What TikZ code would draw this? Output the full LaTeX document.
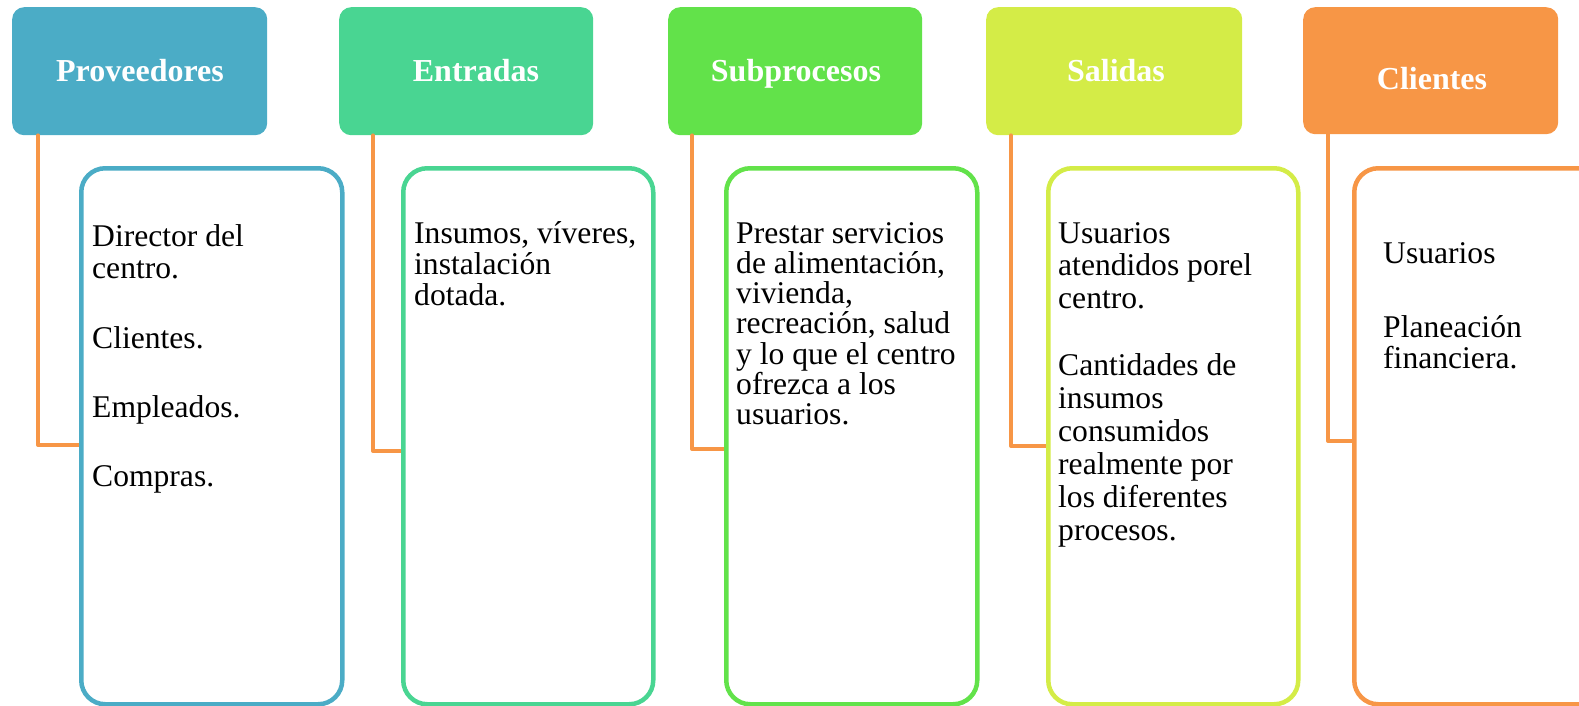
\documentclass[tikz,border=0pt]{standalone}
\usepackage{fontspec}
\setmainfont{Liberation Serif}
\definecolor{cA}{HTML}{4BACC6}
\definecolor{cB}{HTML}{49D592}
\definecolor{cC}{HTML}{62E24A}
\definecolor{cD}{HTML}{D4EC47}
\definecolor{cE}{HTML}{F79646}
\definecolor{conn}{HTML}{F79646}
\begin{document}
\begin{tikzpicture}[x=1pt,y=-1pt,
  head/.style={fill=#1,draw=none,rounded corners=12pt,minimum width=255pt,minimum height=128pt,anchor=north west,inner sep=0pt},
  headtext/.style={text=white,font=\fontsize{32}{36}\selectfont\bfseries,anchor=base,inner sep=0pt},
  cbox/.style={draw=#1,fill=white,line width=4.5pt,rounded corners=24pt,minimum width=251pt,minimum height=536pt,anchor=north west,inner sep=0pt},
  btext/.style={anchor=base west,inner sep=0pt,font=\fontsize{31.6}{32}\selectfont,align=left},
  connline/.style={draw=conn,line width=4pt,line cap=round,line join=round}]
\useasboundingbox (0,0) rectangle (1579,706);
% headers
\node[head=cA] (h1) at (12,7) {};
\node[head=cB,minimum width=254pt] (h2) at (339,7) {};
\node[head=cC,minimum width=254pt] (h3) at (668,7) {};
\node[head=cD,minimum width=256pt] (h4) at (986,7) {};
\node[head=cE,minimum height=127pt] (h5) at (1303,7) {};
\node[headtext] (l1) at (140,82) {Proveedores};
\node[headtext] (l2) at (476,82) {Entradas};
\node[headtext] (l3) at (796,82) {Subprocesos};
\node[headtext] (l4) at (1116,82) {Salidas};
\node[headtext] (l5) at (1432,90) {Clientes};
% connector corners
\coordinate (k1) at (38,445);
\coordinate (k2) at (373,451);
\coordinate (k3) at (692,449);
\coordinate (k4) at (1011,446);
\coordinate (k5) at (1328,441);
% content boxes (positions only)
\path (79,166) coordinate (p1) (401,166) coordinate (p2) (724,166) coordinate (p3) (1046,166) coordinate (p4) (1352,166) coordinate (p5);
\foreach \i in {1,...,5} {\draw[connline] (h\i.south -| k\i) |- (p\i |- k\i);}
\node[cbox=cA,minimum width=261pt] (b1) at (p1) {};
\node[cbox=cB,minimum width=250pt] (b2) at (p2) {};
\node[cbox=cC,minimum width=251pt] (b3) at (p3) {};
\node[cbox=cD,minimum width=250pt] (b4) at (p4) {};
\node[cbox=cE,minimum width=260pt] (b5) at (p5) {};
% texts
\node[btext] (t1) at (92,246) {\parbox[t]{240pt}{\raggedright\baselineskip=32.3pt
Director del\\centro.\\[37.7pt]Clientes.\\[37pt]Empleados.\\[37pt]Compras.}};
\node[btext] (t2) at (414,243) {\parbox[t]{235pt}{\raggedright\baselineskip=31pt
Insumos, víveres,\\instalación\\dotada.}};
\node[btext] (t3) at (736,243) {\parbox[t]{235pt}{\raggedright\baselineskip=30.3pt
Prestar servicios\\de alimentación,\\vivienda,\\recreación, salud\\y lo que el centro\\ofrezca a los\\usuarios.}};
\node[btext] (t4) at (1058,243) {\parbox[t]{235pt}{\raggedright\baselineskip=32.9pt
Usuarios\\atendidos porel\\centro.\\[34pt]Cantidades de\\insumos\\consumidos\\realmente por\\los diferentes\\procesos.}};
\node[btext] (t5) at (1383,263) {\parbox[t]{190pt}{\raggedright\baselineskip=31pt
Usuarios\\[43pt]Planeación\\financiera.}};
\end{tikzpicture}
\end{document}
